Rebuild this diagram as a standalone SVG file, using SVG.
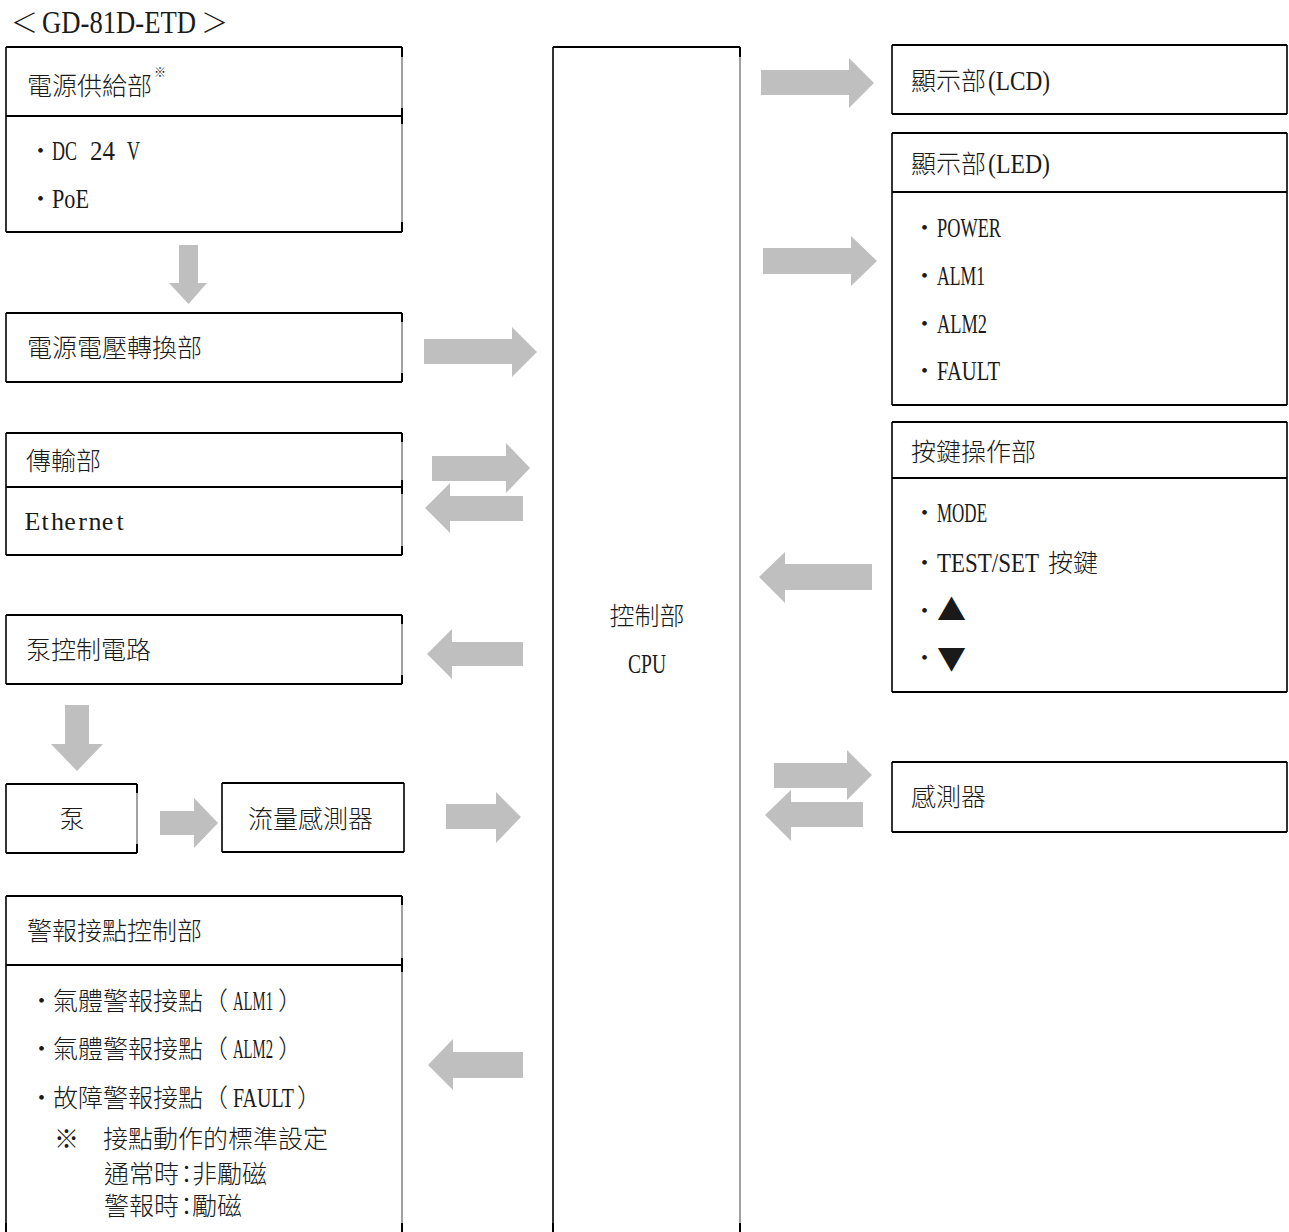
<svg xmlns="http://www.w3.org/2000/svg" width="1289" height="1232" viewBox="0 0 1289 1232">
  <style>
    .bg { fill: #ffffff; }
    .hl { stroke: #000; stroke-width: 2; fill: none; }
    .vl { stroke: #000; stroke-width: 1.6; fill: none; }
    .vr { stroke: #8a8a8a; stroke-width: 1.6; fill: none; }
    .tk { stroke: #000; stroke-width: 2; fill: none; }
    .arr { fill: #bfbfbf; }
    .cj { font-family: "Noto Sans CJK TC", "Noto Sans CJK JP", sans-serif; font-size: 25px; font-weight: 300; fill: #1a1a1a; }
    .la { font-family: "Liberation Serif", "Noto Sans CJK TC", serif; font-size: 27px; fill: #1a1a1a; }
    .mono { font-family: "Liberation Serif", serif; font-size: 26px; fill: #1a1a1a; text-anchor: middle; }
    .sm { font-family: "Noto Sans CJK TC", sans-serif; font-size: 12px; fill: #1a1a1a; }
  </style>
  <rect x="0" y="0" width="1289" height="1232" fill="#ffffff"/>

  <!-- title -->
  <g id="title">
    <text class="cj" x="11" y="33" style="font-size:27px">＜</text>
    <text class="la" x="42" y="33" style="font-size:32px" textLength="154" lengthAdjust="spacingAndGlyphs">GD-81D-ETD</text>
    <text class="cj" x="201" y="33" style="font-size:27px">＞</text>
  </g>

  <!-- power supply -->
  <g id="power-supply">
    <rect class="bg" x="6" y="47" width="396" height="185"/>
    <path class="hl" d="M6 47H402M6 116H402M6 232H402"/>
    <path class="vl" d="M6 47V232"/>
    <path class="vr" d="M402 47V232"/>
    <path class="tk" d="M402 47v10M402 108v16M402 232v-10"/>
    <text class="cj" x="27" y="95">電源供給部</text>
    <text class="sm" x="154" y="77">※</text>
    <text class="cj" x="28" y="160">・</text>
    <text class="la" x="52" y="160" textLength="25" lengthAdjust="spacingAndGlyphs">DC</text>
    <text class="la" x="90" y="160" textLength="25" lengthAdjust="spacingAndGlyphs">24</text>
    <text class="la" x="127" y="160" textLength="13" lengthAdjust="spacingAndGlyphs">V</text>
    <text class="cj" x="28" y="208">・</text>
    <text class="la" x="52" y="208" textLength="37" lengthAdjust="spacingAndGlyphs">PoE</text>
  </g>

  <!-- voltage converter -->
  <g id="voltage-converter">
    <rect class="bg" x="6" y="313" width="396" height="69"/>
    <path class="hl" d="M6 313H402M6 382H402"/>
    <path class="vl" d="M6 313V382"/>
    <path class="vr" d="M402 313V382"/>
    <path class="tk" d="M402 313v9M402 382v-9"/>
    <text class="cj" x="27" y="357">電源電壓轉換部</text>
  </g>

  <!-- transmission -->
  <g id="transmission">
    <rect class="bg" x="6" y="433" width="396" height="122"/>
    <path class="hl" d="M6 433H402M6 487H402M6 555H402"/>
    <path class="vl" d="M6 433V555"/>
    <path class="vr" d="M402 433V555"/>
    <path class="tk" d="M402 433v9M402 480v14M402 555v-9"/>
    <text class="cj" x="26" y="470">傳輸部</text>
    <text class="mono" x="32.5 45 57.5 70 82.5 95 107.5 120" y="530">Ethernet</text>
  </g>

  <!-- pump control circuit -->
  <g id="pump-control">
    <rect class="bg" x="6" y="615" width="396" height="69"/>
    <path class="hl" d="M6 615H402M6 684H402"/>
    <path class="vl" d="M6 615V684"/>
    <path class="vr" d="M402 615V684"/>
    <path class="tk" d="M402 615v9M402 684v-9"/>
    <text class="cj" x="26" y="659">泵控制電路</text>
  </g>

  <!-- pump -->
  <g id="pump">
    <rect class="bg" x="6" y="784" width="131" height="69"/>
    <path class="hl" d="M6 784H137M6 853H137"/>
    <path class="vl" d="M6 784V853"/>
    <path class="vr" d="M137 784V853"/>
    <path class="tk" d="M137 784v9M137 853v-9"/>
    <text class="cj" x="59.5" y="828">泵</text>
  </g>

  <!-- flow sensor -->
  <g id="flow-sensor">
    <rect class="bg" x="222" y="783" width="182" height="69"/>
    <path class="hl" d="M222 783H404M222 852H404"/>
    <path class="vl" d="M222 783V852M404 783V852"/>
    <text class="cj" x="248" y="828">流量感測器</text>
  </g>

  <!-- alarm contact control -->
  <g id="alarm-contacts">
    <rect class="bg" x="6" y="896" width="396" height="336"/>
    <path class="hl" d="M6 896H402M6 965H402"/>
    <path class="vl" d="M6 896V1232"/>
    <path class="vr" d="M402 896V1232"/>
    <path class="tk" d="M402 896v9M402 958v14M402 1232v-9M6 1232v-9"/>
    <text class="cj" x="27" y="940">警報接點控制部</text>
    <text class="cj" x="29" y="1010">・</text>
    <text class="cj" x="53" y="1010">氣體警報接點（</text>
    <text class="la" x="233" y="1010" textLength="40" lengthAdjust="spacingAndGlyphs">ALM1</text>
    <text class="cj" x="278" y="1010">）</text>
    <text class="cj" x="29" y="1058">・</text>
    <text class="cj" x="53" y="1058">氣體警報接點（</text>
    <text class="la" x="233" y="1058" textLength="40" lengthAdjust="spacingAndGlyphs">ALM2</text>
    <text class="cj" x="278" y="1058">）</text>
    <text class="cj" x="29" y="1107">・</text>
    <text class="cj" x="53" y="1107">故障警報接點（</text>
    <text class="la" x="233" y="1107" textLength="61" lengthAdjust="spacingAndGlyphs">FAULT</text>
    <text class="cj" x="297" y="1107">）</text>
    <text class="cj" x="54" y="1148">※</text>
    <text class="cj" x="103" y="1148">接點動作的標準設定</text>
    <text class="cj" y="1183"><tspan x="104">通常時</tspan><tspan x="174">：</tspan><tspan x="192">非勵磁</tspan></text>
    <text class="cj" y="1215"><tspan x="104">警報時</tspan><tspan x="174">：</tspan><tspan x="192">勵磁</tspan></text>
  </g>

  <!-- control unit -->
  <g id="cpu">
    <rect class="bg" x="553" y="47" width="187" height="1185"/>
    <path class="hl" d="M553 47H740"/>
    <path class="vl" d="M553 47V1232"/>
    <path class="vr" d="M740 47V1232"/>
    <path class="tk" d="M740 47v10M740 1232v-9M553 1232v-9"/>
    <text class="cj" x="647" y="625" text-anchor="middle">控制部</text>
    <text class="la" x="628" y="673" textLength="38" lengthAdjust="spacingAndGlyphs">CPU</text>
  </g>

  <!-- LCD display -->
  <g id="lcd">
    <rect class="bg" x="892" y="45" width="395" height="69"/>
    <path class="hl" d="M892 45H1287M892 114H1287"/>
    <path class="vl" d="M892 45V114M1287 45V114"/>
    <text class="cj" x="911" y="90">顯示部</text>
    <text class="la" x="988" y="90" textLength="62" lengthAdjust="spacingAndGlyphs">(LCD)</text>
  </g>

  <!-- LED display -->
  <g id="led">
    <rect class="bg" x="892" y="133" width="395" height="272"/>
    <path class="hl" d="M892 133H1287M892 192H1287M892 405H1287"/>
    <path class="vl" d="M892 133V405M1287 133V405"/>
    <text class="cj" x="911" y="173">顯示部</text>
    <text class="la" x="988" y="173" textLength="62" lengthAdjust="spacingAndGlyphs">(LED)</text>
    <text class="cj" x="912" y="237">・</text>
    <text class="la" x="937" y="237" textLength="64" lengthAdjust="spacingAndGlyphs">POWER</text>
    <text class="cj" x="912" y="285">・</text>
    <text class="la" x="937" y="285" textLength="48" lengthAdjust="spacingAndGlyphs">ALM1</text>
    <text class="cj" x="912" y="333">・</text>
    <text class="la" x="937" y="333" textLength="50" lengthAdjust="spacingAndGlyphs">ALM2</text>
    <text class="cj" x="912" y="380">・</text>
    <text class="la" x="937" y="380" textLength="63" lengthAdjust="spacingAndGlyphs">FAULT</text>
  </g>

  <!-- key operation -->
  <g id="keys">
    <rect class="bg" x="892" y="422" width="395" height="270"/>
    <path class="hl" d="M892 422H1287M892 478H1287M892 692H1287"/>
    <path class="vl" d="M892 422V692M1287 422V692"/>
    <text class="cj" x="911" y="461">按鍵操作部</text>
    <text class="cj" x="912" y="522">・</text>
    <text class="la" x="937" y="522" textLength="50" lengthAdjust="spacingAndGlyphs">MODE</text>
    <text class="cj" x="912" y="572">・</text>
    <text class="la" x="937" y="572" textLength="102" lengthAdjust="spacingAndGlyphs">TEST/SET</text>
    <text class="cj" x="1048" y="572">按鍵</text>
    <text class="cj" x="912" y="620">・</text>
    <text class="cj" x="937" y="621" style="font-size:29px">▲</text>
    <text class="cj" x="912" y="667">・</text>
    <text class="cj" x="937" y="670" style="font-size:29px">▼</text>
  </g>

  <!-- sensor -->
  <g id="sensor">
    <rect class="bg" x="892" y="762" width="395" height="70"/>
    <path class="hl" d="M892 762H1287M892 832H1287"/>
    <path class="vl" d="M892 762V832M1287 762V832"/>
    <text class="cj" x="911" y="806">感測器</text>
  </g>

  <!-- block arrows between units -->
  <g id="connectors">
    <polygon class="arr" points="179,245 198,245 198,283 207,283 188.5,304 169,283 179,283"/>
    <polygon class="arr" points="424,339 512,339 512,327 537,352 512,377 512,364 424,364"/>
    <polygon class="arr" points="432,456 506,456 506,443 530,468 506,493 506,481 432,481"/>
    <polygon class="arr" points="523,496 450,496 450,483 425,508 450,533 450,521 523,521"/>
    <polygon class="arr" points="523,642 452,642 452,629 427,654 452,679 452,666 523,666"/>
    <polygon class="arr" points="65,705 89,705 89,744 103,744 77,771 51,744 65,744"/>
    <polygon class="arr" points="160,811 194,811 194,798 218,823 194,848 194,835 160,835"/>
    <polygon class="arr" points="446,804 496,804 496,792 521,817 496,843 496,829 446,829"/>
    <polygon class="arr" points="523,1052 453,1052 453,1039 428,1065 453,1090 453,1078 523,1078"/>
    <polygon class="arr" points="761,70 849,70 849,58 874,83 849,108 849,95 761,95"/>
    <polygon class="arr" points="763,248 851,248 851,236 877,261 851,286 851,274 763,274"/>
    <polygon class="arr" points="872,564 785,564 785,552 759,577 785,603 785,590 872,590"/>
    <polygon class="arr" points="774,763 847,763 847,750 872,775 847,800 847,788 774,788"/>
    <polygon class="arr" points="863,802 791,802 791,790 765,815 791,841 791,827 863,827"/>
  </g>
</svg>
